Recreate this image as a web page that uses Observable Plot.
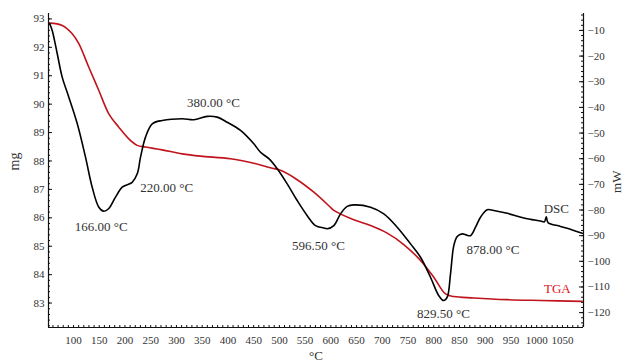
<!DOCTYPE html>
<html>
<head>
<meta charset="utf-8">
<script src="https://cdn.jsdelivr.net/npm/d3@7"></script>
<script src="https://cdn.jsdelivr.net/npm/@observablehq/plot@0.6"></script>
<style>
  html, body { margin: 0; padding: 0; background: #fff; }
  #chart svg { display: block; }
</style>
</head>
<body>
<div id="chart"></div>
<script>
// ---- DSC curve (temperature °C, heat flow mW) ----
const dscTemp = [53.4, 58.6, 68.3, 78.0, 90.9, 107.2, 123.3, 136.3, 149.2, 158.9, 168.6, 181.6, 194.6, 214.0, 223.8, 230.2, 239.9, 252.9, 272.3, 311.2, 333.7, 359.8, 379.2, 398.6, 424.5, 450.3, 463.3, 479.5, 495.8, 515.2, 534.6, 554.1, 570.2, 586.3, 592.9, 605.8, 618.8, 631.8, 644.6, 677.1, 702.9, 728.9, 754.8, 774.2, 793.6, 809.8, 819.5, 826.1, 832.5, 838.9, 845.5, 855.2, 861.6, 871.3, 881.1, 890.8, 903.8, 916.6, 942.6, 974.9, 1007.3, 1015.0, 1018.5, 1022.0, 1046.2, 1072.1, 1088.4];
const dscMW = [-7.2, -10.0, -19.0, -28.2, -36.0, -46.3, -59.4, -71.1, -78.9, -80.5, -79.4, -75.0, -71.1, -69.2, -65.9, -59.4, -51.6, -46.4, -45.1, -44.4, -44.8, -43.5, -43.8, -45.8, -49.0, -54.2, -57.5, -60.0, -63.9, -69.8, -76.3, -82.2, -86.1, -87.0, -87.3, -86.1, -81.5, -78.6, -78.0, -78.9, -81.5, -86.7, -93.2, -98.4, -106.2, -113.4, -115.3, -114.0, -104.9, -93.9, -90.3, -89.3, -89.6, -90.0, -86.7, -82.8, -79.9, -80.2, -81.3, -83.1, -84.3, -84.6, -82.6, -84.9, -86.4, -88.0, -89.1];

// ---- TGA curve (temperature °C, mass mg) ----
const tgaTemp = [53.4, 78.0, 97.5, 110.3, 129.7, 149.2, 168.6, 188.0, 207.4, 223.8, 239.9, 272.3, 311.2, 346.8, 405.0, 450.3, 482.8, 502.2, 534.6, 566.9, 599.3, 605.8, 644.6, 677.1, 709.5, 741.7, 774.2, 800.0, 822.8, 838.9, 877.8, 942.6, 1007.3, 1088.4];
const tgaMg = [92.85, 92.77, 92.48, 92.13, 91.30, 90.48, 89.66, 89.19, 88.78, 88.55, 88.49, 88.39, 88.25, 88.17, 88.08, 87.92, 87.76, 87.67, 87.34, 86.90, 86.37, 86.26, 85.93, 85.73, 85.46, 85.06, 84.50, 83.91, 83.32, 83.23, 83.18, 83.12, 83.09, 83.06];

// ---- peak annotations (placed on the DSC scale) ----
const annText = ["166.00 °C", "220.00 °C", "380.00 °C", "596.50 °C", "829.50 °C", "878.00 °C", "DSC"];
const annTemp = [154, 281, 372, 576, 819, 915, 1038];
const annMW = [-86.4, -71.2, -38.1, -93.9, -120.4, -95.4, -79.4];
const tgaLabel = ["TGA"];
const tgaLabelTemp = [1040];
const tgaLabelMg = [83.51];

// ---- axes ----
const xTickLabels = [100, 150, 200, 250, 300, 350, 400, 450, 500, 550, 600, 650, 700, 750, 800, 850, 900, 950, 1000, 1050];
const mgTickLabels = [83, 84, 85, 86, 87, 88, 89, 90, 91, 92, 93];
const mwTickLabels = [-120, -110, -100, -90, -80, -70, -60, -50, -40, -30, -20, -10];
const xDomain = [51.4, 1090.9];
const mgDomain = [82.14, 93.19];
const mwDomain = [-125.8, -3.4];

// map mass (left axis) onto the heat-flow (right axis) scale
const toMW = mg => mwDomain[0] + (mg - mgDomain[0]) / (mgDomain[1] - mgDomain[0]) * (mwDomain[1] - mwDomain[0]);

const W = 626, H = 361;
const mL = 48, mR = 43, mT = 13, mB = 34;
const frameW = W - mL - mR, frameH = H - mT - mB;

const dsc = dscTemp.map((t, i) => ({t, v: dscMW[i]}));
const tga = tgaTemp.map((t, i) => ({t, v: toMW(tgaMg[i])}));
const ann = annText.map((s, i) => ({s, t: annTemp[i], v: annMW[i]}));
const tgaAnn = tgaLabel.map((s, i) => ({s, t: tgaLabelTemp[i], v: toMW(tgaLabelMg[i])}));

const xMinor = d3.range(60, 1091, 10);
const mgMinor = d3.range(82.2, 93.19, 0.2).map(v => +v.toFixed(1));
const mwMinor = d3.range(-124, -3.4, 2);
const mgFmt = new Map(mgTickLabels.map(m => [toMW(m), String(m)]));

const serif = "'Liberation Serif', 'DejaVu Serif', serif";
const axisColor = "#333";

const chart = Plot.plot({
  width: W, height: H,
  marginLeft: mL, marginRight: mR, marginTop: mT, marginBottom: mB,
  style: {fontFamily: serif, fontSize: "11px", color: axisColor, background: "#fff"},
  x: {domain: xDomain},
  y: {domain: mwDomain},
  marks: [
    // minor / major tick marks (pointing inward)
    Plot.tickX(xMinor, {x: d => d, insetTop: frameH - 2, stroke: "#111", strokeWidth: 1}),
    Plot.tickY(mgMinor, {y: d => toMW(d), insetRight: frameW - 2, stroke: "#111"}),
    Plot.tickY(mgTickLabels, {y: d => toMW(d), insetRight: frameW - 4, stroke: "#111"}),
    Plot.tickY(mwMinor, {y: d => d, insetLeft: frameW - 2, stroke: "#111"}),
    Plot.tickY(mwTickLabels, {y: d => d, insetLeft: frameW - 4, stroke: "#111"}),
    // axis lines
    Plot.ruleY([mwDomain[0]], {stroke: "#111", strokeWidth: 1.2}),
    Plot.ruleX([xDomain[0], xDomain[1]], {stroke: "#111", strokeWidth: 1.2}),
    // tick labels
    Plot.axisX({ticks: xTickLabels, tickFormat: d => String(d), tickSize: 0, tickPadding: 9, label: null, fontSize: 11}),
    Plot.axisY({anchor: "left", ticks: mgTickLabels.map(toMW), tickFormat: d => mgFmt.get(d) ?? "", tickSize: 0, tickPadding: 4, label: null, fontSize: 11}),
    Plot.axisY({anchor: "right", ticks: mwTickLabels, tickFormat: d => String(d).replace("-", "\u2212"), tickSize: 0, tickPadding: 4, label: null, fontSize: 11}),
    // curves
    Plot.line(tga, {x: "t", y: "v", stroke: "#c0141c", strokeWidth: 1.6, curve: "catmull-rom"}),
    Plot.line(dsc, {x: "t", y: "v", stroke: "#000", strokeWidth: 1.6, curve: "catmull-rom"}),
    // annotations
    Plot.text(ann, {x: "t", y: "v", text: "s", fontSize: 13, fill: "#333", fontFamily: serif}),
    Plot.text(tgaAnn, {x: "t", y: "v", text: "s", fontSize: 13, fill: "#e0121c", fontFamily: serif}),
    // axis titles
    Plot.text(["mg"], {text: d => d, frameAnchor: "left", dx: -34, rotate: -90, fontSize: 14, fill: "#333", fontFamily: serif}),
    Plot.text(["mW"], {text: d => d, frameAnchor: "right", dx: 33, rotate: -90, fontSize: 13, fill: "#333", fontFamily: serif}),
    Plot.text(["°C"], {text: d => d, frameAnchor: "bottom", dy: 32, fontSize: 13, fill: "#333", fontFamily: serif})
  ]
});
document.getElementById("chart").appendChild(chart);
</script>
</body>
</html>
